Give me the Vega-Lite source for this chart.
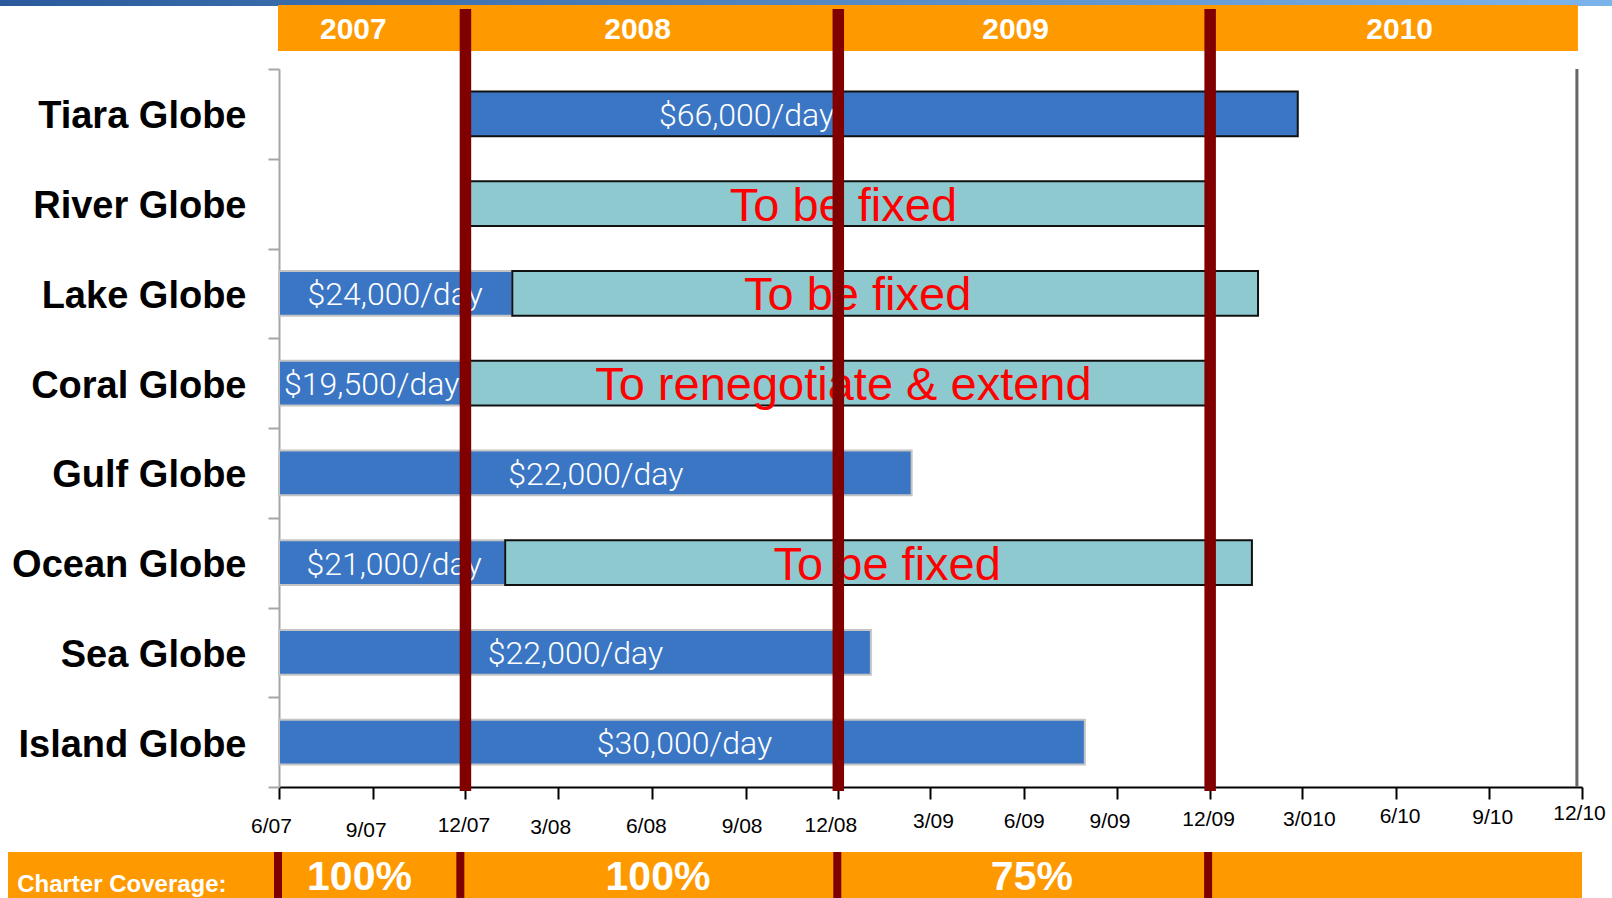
{
  "$schema": "https://vega.github.io/schema/vega-lite/v6.json",
  "width": 1303,
  "height": 718,
  "autosize": {"type": "none"},
  "padding": {"left": 279, "top": 69, "right": 30, "bottom": 111},
  "background": "white",
  "config": {"view": {"stroke": null}, "font": "Liberation Sans"},
  "datasets": {
    "strip": [{"from": "2006-08-31", "to": "2011-01-31"}],
    "header": [{"from": "2007-05-31", "to": "2010-11-27"}],
    "years": [
      {"year": "2007", "at": "2007-08-13"},
      {"year": "2008", "at": "2008-05-18"},
      {"year": "2009", "at": "2009-05-24"},
      {"year": "2010", "at": "2010-06-05"}
    ],
    "segments": [
      {"vessel": "Tiara Globe", "kind": "fixed", "start": "2007-12-01", "end": "2010-02-25", "label": "$66,000/day", "label_at": "2008-09-02"},
      {"vessel": "River Globe", "kind": "open", "start": "2007-12-01", "end": "2009-12-01", "label": "To be fixed", "label_at": "2008-12-06"},
      {"vessel": "Lake Globe", "kind": "fixed", "start": "2007-06-01", "end": "2008-01-16", "label": "$24,000/day", "label_at": "2007-09-23"},
      {"vessel": "Lake Globe", "kind": "open", "start": "2008-01-16", "end": "2010-01-17", "label": "To be fixed", "label_at": "2008-12-20"},
      {"vessel": "Coral Globe", "kind": "fixed", "start": "2007-06-01", "end": "2007-12-01", "label": "$19,500/day", "label_at": "2007-08-31"},
      {"vessel": "Coral Globe", "kind": "open", "start": "2007-12-01", "end": "2009-12-01", "label": "To renegotiate & extend", "label_at": "2008-12-06"},
      {"vessel": "Gulf Globe", "kind": "fixed", "start": "2007-06-01", "end": "2009-02-11", "label": "$22,000/day", "label_at": "2008-04-07"},
      {"vessel": "Ocean Globe", "kind": "fixed", "start": "2007-06-01", "end": "2008-01-09", "label": "$21,000/day", "label_at": "2007-09-22"},
      {"vessel": "Ocean Globe", "kind": "open", "start": "2008-01-09", "end": "2010-01-11", "label": "To be fixed", "label_at": "2009-01-18"},
      {"vessel": "Sea Globe", "kind": "fixed", "start": "2007-06-01", "end": "2009-01-02", "label": "$22,000/day", "label_at": "2008-03-18"},
      {"vessel": "Island Globe", "kind": "fixed", "start": "2007-06-01", "end": "2009-07-31", "label": "$30,000/day", "label_at": "2008-07-03"}
    ],
    "year_ends": [{"date": "2007-12-01"}, {"date": "2008-12-01"}, {"date": "2009-12-01"}],
    "frame": [{"date": "2010-11-26"}],
    "footer": [{"from": "2006-09-08", "to": "2010-12-01"}],
    "footer_marks": [{"date": "2007-05-31"}, {"date": "2007-11-26"}, {"date": "2008-11-30"}, {"date": "2009-11-29"}],
    "coverage": [
      {"label": "100%", "at": "2007-08-19"},
      {"label": "100%", "at": "2008-06-07"},
      {"label": "75%", "at": "2009-06-09"}
    ],
    "coverage_title": [{"label": "Charter Coverage:", "at": "2006-09-17"}]
  },
  "layer": [
    {
      "data": {"name": "segments"},
      "mark": {"type": "bar", "strokeWidth": 2, "height": {"band": 0.5}},
      "encoding": {
        "x": {
          "field": "start", "type": "temporal",
          "scale": {"type": "utc", "domain": [{"year": 2007, "month": 6, "date": 1, "utc": true}, {"year": 2010, "month": 12, "date": 1, "utc": true}]},
          "axis": {
            "title": null,
            "grid": false,
            "values": [
              {"year": 2007, "month": 6, "date": 1, "utc": true},
              {"year": 2007, "month": 9, "date": 1, "utc": true},
              {"year": 2007, "month": 12, "date": 1, "utc": true},
              {"year": 2008, "month": 3, "date": 1, "utc": true},
              {"year": 2008, "month": 6, "date": 1, "utc": true},
              {"year": 2008, "month": 9, "date": 1, "utc": true},
              {"year": 2008, "month": 12, "date": 1, "utc": true},
              {"year": 2009, "month": 3, "date": 1, "utc": true},
              {"year": 2009, "month": 6, "date": 1, "utc": true},
              {"year": 2009, "month": 9, "date": 1, "utc": true},
              {"year": 2009, "month": 12, "date": 1, "utc": true},
              {"year": 2010, "month": 3, "date": 1, "utc": true},
              {"year": 2010, "month": 6, "date": 1, "utc": true},
              {"year": 2010, "month": 9, "date": 1, "utc": true},
              {"year": 2010, "month": 12, "date": 1, "utc": true}
            ],
            "labelExpr": "utcyear(datum.value) == 2010 && utcmonth(datum.value) == 2 ? '3/010' : utcFormat(datum.value, '%-m/%y')",
            "labelFont": "Liberation Sans",
            "labelFontSize": 21,
            "labelColor": "#000000",
            "labelBaseline": "middle",
            "labelOffset": {
              "condition": [
                {"test": "utcFormat(datum.value, '%m%y') == '0607'", "value": -8},
                {"test": "utcFormat(datum.value, '%m%y') == '0907'", "value": -7},
                {"test": "utcFormat(datum.value, '%m%y') == '1207'", "value": -2},
                {"test": "utcFormat(datum.value, '%m%y') == '0308'", "value": -8},
                {"test": "utcFormat(datum.value, '%m%y') == '0608'", "value": -6},
                {"test": "utcFormat(datum.value, '%m%y') == '0908'", "value": -4},
                {"test": "utcFormat(datum.value, '%m%y') == '1208'", "value": -8},
                {"test": "utcFormat(datum.value, '%m%y') == '0309'", "value": 3},
                {"test": "utcFormat(datum.value, '%m%y') == '0909'", "value": -8},
                {"test": "utcFormat(datum.value, '%m%y') == '1209'", "value": -2},
                {"test": "utcFormat(datum.value, '%m%y') == '0310'", "value": 7},
                {"test": "utcFormat(datum.value, '%m%y') == '0610'", "value": 4},
                {"test": "utcFormat(datum.value, '%m%y') == '0910'", "value": 3},
                {"test": "utcFormat(datum.value, '%m%y') == '1210'", "value": -3}
              ],
              "value": 0
            },
            "labelPadding": {
              "condition": [
                {"test": "utcFormat(datum.value, '%m%y') == '0607'", "value": 27},
                {"test": "utcFormat(datum.value, '%m%y') == '0907'", "value": 31},
                {"test": "utcFormat(datum.value, '%m%y') == '1207'", "value": 26},
                {"test": "utcFormat(datum.value, '%m%y') == '0308'", "value": 28},
                {"test": "utcFormat(datum.value, '%m%y') == '0608'", "value": 27},
                {"test": "utcFormat(datum.value, '%m%y') == '0908'", "value": 27},
                {"test": "utcFormat(datum.value, '%m%y') == '1208'", "value": 26},
                {"test": "utcFormat(datum.value, '%m%y') == '0309'", "value": 22},
                {"test": "utcFormat(datum.value, '%m%y') == '0609'", "value": 22},
                {"test": "utcFormat(datum.value, '%m%y') == '0909'", "value": 22},
                {"test": "utcFormat(datum.value, '%m%y') == '1209'", "value": 20},
                {"test": "utcFormat(datum.value, '%m%y') == '0310'", "value": 20},
                {"test": "utcFormat(datum.value, '%m%y') == '0610'", "value": 17},
                {"test": "utcFormat(datum.value, '%m%y') == '0910'", "value": 18},
                {"test": "utcFormat(datum.value, '%m%y') == '1210'", "value": 14}
              ],
              "value": 23
            },
            "labelFlush": false,
            "labelOverlap": false,
            "domainColor": "#000000",
            "domainWidth": 2,
            "tickColor": "#000000",
            "tickWidth": 2,
            "tickSize": 12
          }
        },
        "x2": {"field": "end"},
        "y": {
          "field": "vessel", "type": "nominal", "sort": null,
          "scale": {"domain": ["Tiara Globe", "River Globe", "Lake Globe", "Coral Globe", "Gulf Globe", "Ocean Globe", "Sea Globe", "Island Globe"], "paddingInner": 0, "paddingOuter": 0},
          "axis": {
            "title": null,
            "domainColor": "#a6a6a6",
            "domainWidth": 2,
            "tickColor": "#a6a6a6",
            "tickWidth": 2,
            "tickSize": 11,
            "tickBand": "extent",
            "labelFont": "Liberation Sans",
            "labelFontWeight": "bold",
            "labelFontSize": 38,
            "labelColor": "#000000",
            "labelPadding": 22,
            "labelOffset": 3,
            "labelLimit": 400
          }
        },
        "fill": {"field": "kind", "type": "nominal", "scale": {"domain": ["fixed", "open"], "range": ["#3b76c4", "#8dc9cf"]}, "legend": null},
        "stroke": {
          "condition": {"test": "datum.vessel == 'Tiara Globe'", "value": "#111111"},
          "field": "kind", "type": "nominal", "scale": {"domain": ["fixed", "open"], "range": ["#c4c4c4", "#111111"]}, "legend": null
        }
      }
    },
    {
      "data": {"name": "strip"},
      "mark": {"type": "rect", "fill": {"gradient": "linear", "x1": 0, "y1": 0, "x2": 1, "y2": 0, "stops": [{"offset": 0, "color": "#2a5a9b"}, {"offset": 1, "color": "#7db6ec"}]}},
      "encoding": {
        "x": {"field": "from", "type": "temporal", "scale": {"type": "utc", "domain": [{"year": 2007, "month": 6, "date": 1, "utc": true}, {"year": 2010, "month": 12, "date": 1, "utc": true}]}, "axis": null},
        "x2": {"field": "to"},
        "y": {"datum": 0, "type": "quantitative", "scale": {"domain": [0, 1], "range": [-69, -63]}, "axis": null},
        "y2": {"datum": 1}
      }
    },
    {
      "data": {"name": "header"},
      "mark": {"type": "rect", "fill": "#ff9900"},
      "encoding": {
        "x": {"field": "from", "type": "temporal", "scale": {"type": "utc", "domain": [{"year": 2007, "month": 6, "date": 1, "utc": true}, {"year": 2010, "month": 12, "date": 1, "utc": true}]}, "axis": null},
        "x2": {"field": "to"},
        "y": {"datum": 0, "type": "quantitative", "scale": {"domain": [0, 1], "range": [-64, -18]}, "axis": null},
        "y2": {"datum": 1}
      }
    },
    {
      "data": {"name": "years"},
      "mark": {"type": "text", "color": "white", "font": "Liberation Sans", "fontWeight": "bold", "fontSize": 30, "baseline": "middle", "align": "center", "dy": 2},
      "encoding": {
        "x": {"field": "at", "type": "temporal", "scale": {"type": "utc", "domain": [{"year": 2007, "month": 6, "date": 1, "utc": true}, {"year": 2010, "month": 12, "date": 1, "utc": true}]}, "axis": null},
        "y": {"datum": 0.5, "type": "quantitative", "scale": {"domain": [0, 1], "range": [-64, -18]}, "axis": null},
        "text": {"field": "year"}
      }
    },
    {
      "data": {"name": "segments"},
      "transform": [{"filter": "datum.kind == 'fixed'"}],
      "mark": {"type": "text", "color": "white", "font": "Roboto", "fontWeight": 300, "fontSize": 32, "baseline": "middle", "align": "center", "dy": 2},
      "encoding": {
        "x": {"field": "label_at", "type": "temporal", "scale": {"type": "utc", "domain": [{"year": 2007, "month": 6, "date": 1, "utc": true}, {"year": 2010, "month": 12, "date": 1, "utc": true}]}, "axis": null},
        "y": {"field": "vessel", "type": "nominal", "sort": null, "scale": {"domain": ["Tiara Globe", "River Globe", "Lake Globe", "Coral Globe", "Gulf Globe", "Ocean Globe", "Sea Globe", "Island Globe"], "paddingInner": 0, "paddingOuter": 0}, "axis": null},
        "text": {"field": "label"}
      }
    },
    {
      "data": {"name": "segments"},
      "transform": [{"filter": "datum.kind == 'open'"}],
      "mark": {"type": "text", "color": "#ff0000", "font": "Liberation Sans", "fontSize": 47, "baseline": "middle", "align": "center", "dy": 3},
      "encoding": {
        "x": {"field": "label_at", "type": "temporal", "scale": {"type": "utc", "domain": [{"year": 2007, "month": 6, "date": 1, "utc": true}, {"year": 2010, "month": 12, "date": 1, "utc": true}]}, "axis": null},
        "y": {"field": "vessel", "type": "nominal", "sort": null, "scale": {"domain": ["Tiara Globe", "River Globe", "Lake Globe", "Coral Globe", "Gulf Globe", "Ocean Globe", "Sea Globe", "Island Globe"], "paddingInner": 0, "paddingOuter": 0}, "axis": null},
        "text": {"field": "label"}
      }
    },
    {
      "data": {"name": "year_ends"},
      "mark": {"type": "rule", "color": "#800000", "strokeWidth": 11.5},
      "encoding": {
        "x": {"field": "date", "type": "temporal", "scale": {"type": "utc", "domain": [{"year": 2007, "month": 6, "date": 1, "utc": true}, {"year": 2010, "month": 12, "date": 1, "utc": true}]}, "axis": null},
        "y": {"datum": 0, "type": "quantitative", "scale": {"domain": [0, 1], "range": [-60, 722]}, "axis": null},
        "y2": {"datum": 1}
      }
    },
    {
      "data": {"name": "frame"},
      "mark": {"type": "rule", "color": "#666666", "strokeWidth": 3},
      "encoding": {
        "x": {"field": "date", "type": "temporal", "scale": {"type": "utc", "domain": [{"year": 2007, "month": 6, "date": 1, "utc": true}, {"year": 2010, "month": 12, "date": 1, "utc": true}]}, "axis": null}
      }
    },
    {
      "data": {"name": "footer"},
      "mark": {"type": "rect", "fill": "#ff9900"},
      "encoding": {
        "x": {"field": "from", "type": "temporal", "scale": {"type": "utc", "domain": [{"year": 2007, "month": 6, "date": 1, "utc": true}, {"year": 2010, "month": 12, "date": 1, "utc": true}]}, "axis": null},
        "x2": {"field": "to"},
        "y": {"datum": 0, "type": "quantitative", "scale": {"domain": [0, 1], "range": [783, 829]}, "axis": null},
        "y2": {"datum": 1}
      }
    },
    {
      "data": {"name": "footer_marks"},
      "mark": {"type": "rule", "color": "#800000", "strokeWidth": 8},
      "encoding": {
        "x": {"field": "date", "type": "temporal", "scale": {"type": "utc", "domain": [{"year": 2007, "month": 6, "date": 1, "utc": true}, {"year": 2010, "month": 12, "date": 1, "utc": true}]}, "axis": null},
        "y": {"datum": 0, "type": "quantitative", "scale": {"domain": [0, 1], "range": [783, 829]}, "axis": null},
        "y2": {"datum": 1}
      }
    },
    {
      "data": {"name": "coverage"},
      "mark": {"type": "text", "color": "white", "font": "Liberation Sans", "fontWeight": "bold", "fontSize": 41, "baseline": "alphabetic", "align": "center"},
      "encoding": {
        "x": {"field": "at", "type": "temporal", "scale": {"type": "utc", "domain": [{"year": 2007, "month": 6, "date": 1, "utc": true}, {"year": 2010, "month": 12, "date": 1, "utc": true}]}, "axis": null},
        "y": {"datum": 0.82, "type": "quantitative", "scale": {"domain": [0, 1], "range": [783, 829]}, "axis": null},
        "text": {"field": "label"}
      }
    },
    {
      "data": {"name": "coverage_title"},
      "mark": {"type": "text", "color": "white", "font": "Liberation Sans", "fontWeight": "bold", "fontSize": 24, "baseline": "alphabetic", "align": "left"},
      "encoding": {
        "x": {"field": "at", "type": "temporal", "scale": {"type": "utc", "domain": [{"year": 2007, "month": 6, "date": 1, "utc": true}, {"year": 2010, "month": 12, "date": 1, "utc": true}]}, "axis": null},
        "y": {"datum": 0.88, "type": "quantitative", "scale": {"domain": [0, 1], "range": [783, 829]}, "axis": null},
        "text": {"field": "label"}
      }
    }
  ],
  "resolve": {"scale": {"x": "independent", "y": "independent"}}
}
